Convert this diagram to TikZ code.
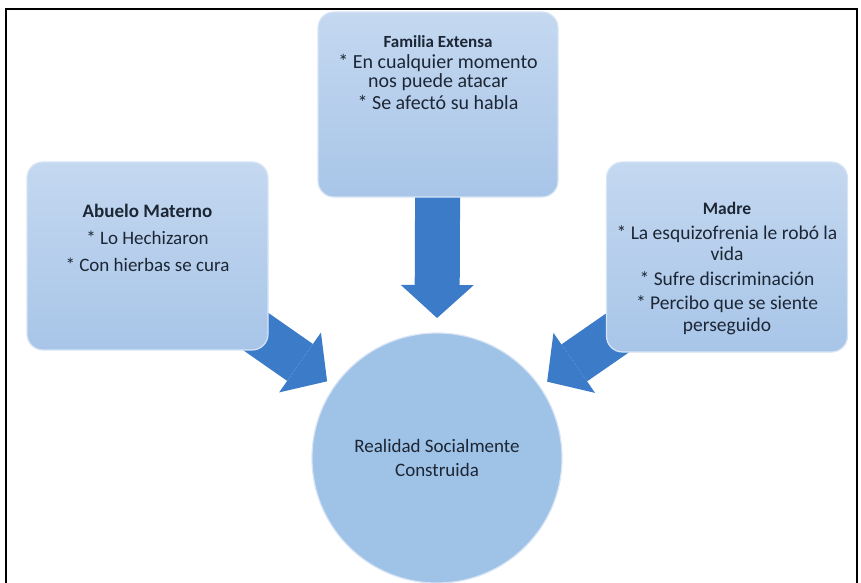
\documentclass[tikz,border=0pt]{standalone}
\usepackage{fontspec}
\setmainfont{Carlito}
\usetikzlibrary{arrows.meta,positioning,backgrounds}
\definecolor{panelTop}{HTML}{C4D8F0}
\definecolor{panelBot}{HTML}{A8C5E8}
\definecolor{panelRim}{HTML}{D6E4F5}
\definecolor{arrowBlue}{HTML}{3C7BC7}
\definecolor{ballFill}{HTML}{9FC2E7}
\definecolor{inkText}{HTML}{1C2634}

\begin{document}
\begin{tikzpicture}[x=1pt,y=-1pt,
  panel/.style={draw=panelRim,line width=1.2pt,rounded corners=16pt,top color=panelTop,bottom color=panelBot,minimum width=241pt,minimum height=188pt},
  paneltext/.style={text=inkText,align=center,inner sep=0pt},
  ball/.style={circle,draw=panelRim,line width=1.2pt,fill=ballFill,minimum size=250pt,outer sep=0pt,text=inkText,align=center,font=\fontsize{19}{24}\selectfont},
  bigarrow/.style={arrowBlue,line width=45pt,-{Triangle[width=73pt,length=33pt,line width=0pt]}}]
\useasboundingbox (0,0) rectangle (861,582);
\draw[line width=1.6pt] (6,600) -- (6,9) -- (857,9) -- (857,600);

\node (fam) [panel,minimum width=240pt,minimum height=185pt] at (438,104.5) {};
\node (abu) [panel] at (147.5,256) {};
\node (mad) [panel,minimum height=190pt] at (727,257) {};
\node (circ) [ball] at (437,458) {Realidad Socialmente\\Construida};

\node (famtext) [paneltext,font=\fontsize{20}{19.5}\selectfont,below=24pt of fam.north]
  {{\fontsize{17}{19.5}\selectfont\textbf{Familia Extensa}}\\[1pt]
  * En cualquier momento\\nos puede atacar\\[2pt]* Se afectó su habla};
\node (abutext) [paneltext,font=\fontsize{19}{27}\selectfont,below=43pt of abu.north]
  {\textbf{Abuelo Materno}\\* Lo Hechizaron\\* Con hierbas se cura};
\node (madtext) [paneltext,font=\fontsize{19.5}{21.5}\selectfont,below=41pt of mad.north]
  {{\fontsize{17.5}{21.5}\selectfont\textbf{Madre}}\\[3pt]
  * La esquizofrenia le robó la\\vida\\[3pt]* Sufre discriminación\\[3pt]
  * Percibo que se siente\\perseguido};

\begin{scope}[on background layer]
\draw[bigarrow,shorten >=15pt] (fam.center) -- (circ.north);
\draw[bigarrow,shorten >=9pt] (abu.center) -- (circ);
\draw[bigarrow,shorten >=9pt] (mad.center) -- (circ);
\end{scope}
\end{tikzpicture}
\end{document}
